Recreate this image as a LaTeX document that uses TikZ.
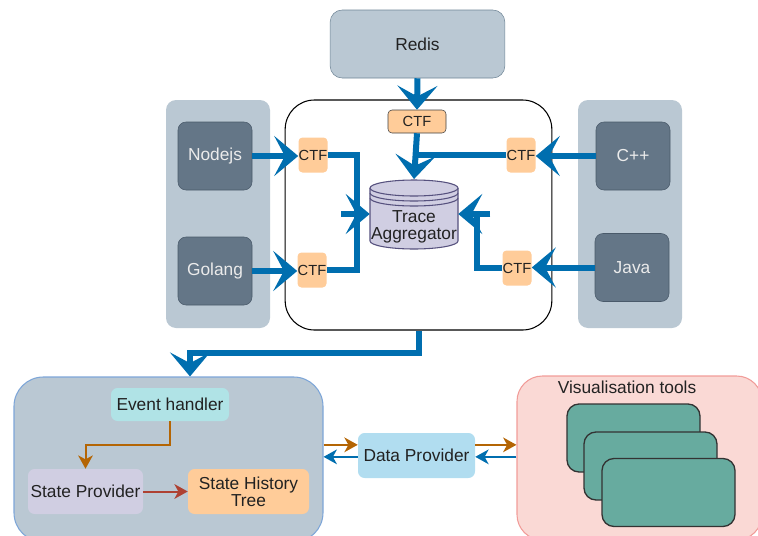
\documentclass[tikz,border=0pt]{standalone}
\usepackage{fontspec}
\setmainfont{Liberation Sans}
\usetikzlibrary{arrows.meta}

\definecolor{panelgray}{HTML}{BAC8D3}
\definecolor{langdark}{HTML}{647687}
\definecolor{langline}{HTML}{4A5A6A}
\definecolor{redisline}{HTML}{6F8596}
\definecolor{ctforange}{HTML}{FFCC99}
\definecolor{cylfill}{HTML}{D0CEE2}
\definecolor{cylline}{HTML}{56517E}
\definecolor{flowblue}{HTML}{006EAF}
\definecolor{tanline}{HTML}{B46504}
\definecolor{redline}{HTML}{AE4132}
\definecolor{evtfill}{HTML}{B0E3E6}
\definecolor{dpfill}{HTML}{B1DDF0}
\definecolor{simline}{HTML}{7EA6D8}
\definecolor{visfill}{HTML}{FAD9D5}
\definecolor{visline}{HTML}{F19C99}
\definecolor{toolfill}{HTML}{67AB9F}
\definecolor{txtdark}{HTML}{222222}

\tikzset{
  panel/.style={fill=panelgray, rounded corners=7.5pt, minimum width=78pt, minimum height=171pt},
  core/.style={draw=black, fill=white, line width=0.8pt, rounded corners=22pt, minimum width=200pt, minimum height=172.5pt},
  lang/.style={draw=langline, fill=langdark, text=white!92!black, rounded corners=6pt, minimum width=55.5pt, minimum height=51pt},
  redisbox/.style={draw=redisline, fill=panelgray, rounded corners=9pt, minimum width=131pt, minimum height=51pt},
  ctf/.style={fill=ctforange, rounded corners=3pt, inner sep=0pt, minimum width=21.75pt, minimum height=26.25pt, font=\fontsize{11}{12}\selectfont},
  ctftop/.style={ctf, draw=black!75, minimum width=43.5pt, minimum height=17.25pt},
  flow/.style={draw=flowblue, line width=4.5pt, -{Stealth[length=18pt, width=30pt, inset=8pt]}},
  pipe/.style={draw=flowblue, line width=4.5pt},
  soft/.style={rounded corners=5pt, inner sep=0pt, align=center},
  thin/.style={line width=1.5pt, -{Stealth[length=10pt, width=11pt, inset=3pt]}},
  tool/.style={draw=black!80, fill=toolfill, line width=1pt, rounded corners=9pt, minimum width=99.75pt, minimum height=51pt}
}

\begin{document}
\begin{tikzpicture}[x=0.75pt, y=-0.75pt, font=\fontsize{13}{12.5}\selectfont, text=txtdark]
  \useasboundingbox (0,0) rectangle (758,536);

  % tracing side
  \node[redisbox] (redis) at (417.5,44) {Redis};
  \node[panel] (leftpanel) at (218,214) {};
  \node[panel] (rightpanel) at (630,214) {};
  \node[core] (core) at (418.5,215) {};
  \node[lang] (nodejs) at (215,156) {Nodejs};
  \node[lang] (golang) at (215,271) {Golang};
  \node[lang] (cpp) at (633,156) {C++};
  \node[lang] (java) at (632,267.5) {Java};

  \node[ctftop] (ctftop) at (417,121.5) {CTF};
  \foreach \name/\pos in {ctfa/{(313,155)}, ctfb/{(312,270)}, ctfc/{(521,155)}, ctfd/{(517,268)}} {
    \node[ctf] (\name) at \pos {CTF};
  }

  % trace aggregator (datastore)
  \fill[cylfill] (370,188) -- (370,241) arc[start angle=180, end angle=360, x radius=33pt, y radius=6pt] -- (458,188) -- cycle;
  \draw[cylline, line width=0.8pt] (370,188) -- (370,241) arc[start angle=180, end angle=360, x radius=33pt, y radius=6pt] -- (458,188);
  \draw[cylline, line width=0.8pt, fill=cylfill] (414,188) ellipse [x radius=33pt, y radius=6pt];
  \foreach \y in {193,198} {
    \draw[cylline, line width=0.8pt] (370,\y) arc[start angle=180, end angle=360, x radius=33pt, y radius=6pt];
  }
  \node[minimum width=66pt, minimum height=52pt] (agg) at (414,214) {};
  \node[align=center] (aggtext) at (414,226.5) {Trace\\Aggregator};

  \draw[flow] (redis.south) -- (ctftop.north);
  \draw[flow] (ctftop.south) -- (agg.north);
  \draw[pipe] (ctfc.west) -- (ctfc.west -| ctftop.south);
  \draw[flow] (nodejs.east) -- (nodejs.east -| ctfa.west);
  \draw[flow] (golang.east) -- (golang.east -| ctfb.west);
  \draw[flow] (cpp.west) -- (cpp.west -| ctfc.east);
  \draw[flow] (java.west) -- (java.west -| ctfd.east);

  \coordinate (joinl) at (357,214);
  \coordinate (joinr) at (477,214);
  \draw[pipe] (ctfa.east) -| (joinl) |- (ctfb.east);
  \draw[flow] ([xshift=-12pt]joinl) -- (agg.west);
  \draw[pipe] (ctfd.west) -| (joinr);
  \draw[flow] ([xshift=10pt]joinr) -- (agg.east);

  % analysis side
  \node[draw=simline, fill=panelgray, line width=0.8pt, rounded corners=22pt, minimum width=231.75pt, minimum height=123.75pt] (sim) at (168.5,459.5) {};
  \node[draw=visline, fill=visfill, line width=0.8pt, rounded corners=19pt, minimum width=183.75pt, minimum height=123pt] (vis) at (639.5,458) {};
  \node (vislabel) at (627,387) {Visualisation tools};
  \foreach \i/\pos in {1/{(633.5,438)}, 2/{(650.5,466)}, 3/{(668.5,492.5)}} {
    \node[tool] (tool\i) at \pos {};
  }

  \node[soft, fill=evtfill, minimum width=88.5pt, minimum height=24.75pt] (evt) at (170,404.5) {Event handler};
  \node[soft, fill=cylfill, minimum width=86.25pt, minimum height=33.75pt] (sp) at (85.5,491.5) {State Provider};
  \node[soft, fill=ctforange, minimum width=90.75pt, minimum height=33.75pt] (sht) at (248.5,491.5) {State History\\Tree};
  \node[soft, fill=dpfill, minimum width=87.75pt, minimum height=33.75pt] (dp) at (416.5,455.5) {Data Provider};

  \coordinate (turn) at (190,353);
  \draw[flow] (core.south) |- (turn) -- (turn |- sim.north);

  \coordinate (ebend) at (170,445);
  \draw[thin, tanline] (evt.south) -- (ebend) -| (sp.north);
  \draw[thin, redline] (sp.east) -- (sht.west);

  \draw[thin, tanline] ([yshift=8pt]dp.west -| sim.east) -- ([yshift=8pt]dp.west);
  \draw[thin, flowblue] ([yshift=-1pt]dp.west) -- ([yshift=-1pt]dp.west -| sim.east);
  \draw[thin, tanline] ([yshift=8pt]dp.east) -- ([yshift=8pt]dp.east -| vis.west);
  \draw[thin, flowblue] ([yshift=-1pt]dp.east -| vis.west) -- ([yshift=-1pt]dp.east);
\end{tikzpicture}
\end{document}
